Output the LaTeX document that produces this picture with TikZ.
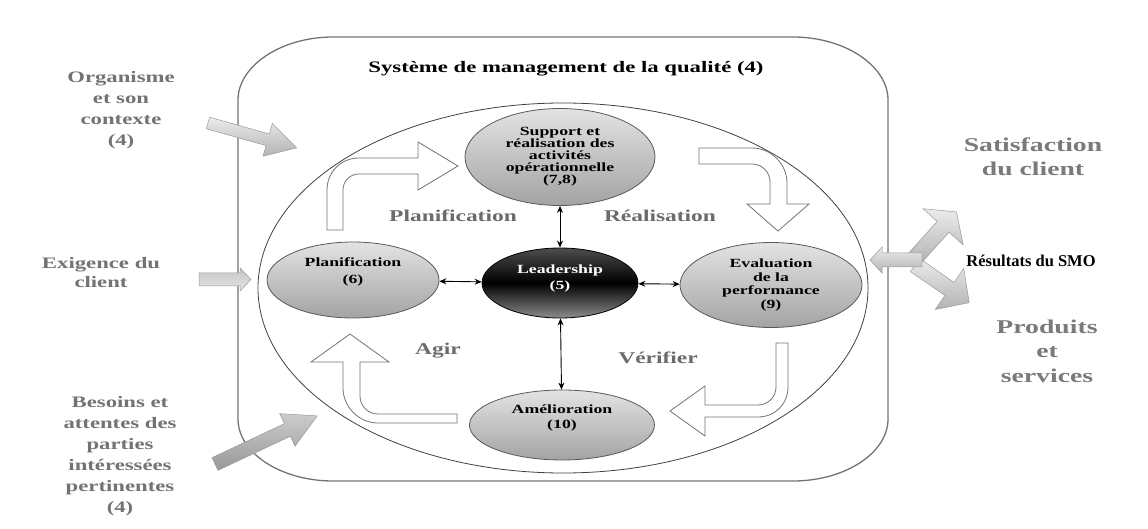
\documentclass[tikz,border=0pt]{standalone}
\usepackage{fontspec}
\setmainfont[FakeStretch=1.42]{Liberation Serif}
\newfontfamily\plainserif{Liberation Serif}
\usetikzlibrary{shapes.geometric,arrows.meta}
\begin{document}
\begin{tikzpicture}[x=1pt,y=-1pt,
  frame/.style={draw=black!55, line width=1.3pt},
  cyc/.style={draw=black!75, line width=0.8pt},
  hollow/.style={draw=black!55, line width=0.8pt, fill=white},
  garrow/.style={draw=black!40, line width=0.5pt, top color=gray!15, bottom color=gray!60},
  ell/.style={ellipse, draw=black!65, line width=0.8pt, top color=gray!22, bottom color=gray!72, inner sep=0pt},
  lead/.style={ellipse, draw=black, line width=0.8pt, top color=black!70, bottom color=black!45, middle color=black, inner sep=0pt},
  etext/.style={align=center, text=black, font=\bfseries\fontsize{12.5}{#1}\selectfont},
  glabel/.style={text=black!58, font=\bfseries\fontsize{16.5}{20}\selectfont},
  outtext/.style={align=center, text=black!55, font=\bfseries\fontsize{16}{#1}\selectfont},
  righttext/.style={align=center, text=black!52, font=\bfseries\fontsize{19.5}{#1}\selectfont},
  dbl/.style={{Stealth[length=7pt,width=6pt]}-{Stealth[length=7pt,width=6pt]}, line width=0.9pt, black}
]
\useasboundingbox (0,0) rectangle (1148,529);

% system frame
\draw[frame] (238,100) -- (238,419) .. controls (238,453) and (281,481) .. (333,481)
  -- (793,481) .. controls (845,481) and (888,453) .. (888,419)
  -- (888,100) .. controls (888,66) and (845,37) .. (793,37)
  -- (333,37) .. controls (281,37) and (238,66) .. (238,100) -- cycle;
\node[anchor=base, text=black, font=\bfseries\fontsize{16}{20}\selectfont] (title) at (566,73) {Système de management de la qualité (4)};

% PDCA cycle
\draw[cyc] (563,288) ellipse [x radius=305, y radius=185];

% hollow cycle arrows
\draw[hollow] (327,230) -- (327,190) .. controls (327,172) and (341,158) .. (359,158)
  -- (418,158) -- (418,142) -- (458,166) -- (418,190) -- (418,174) -- (359,174)
  .. controls (350,174) and (343,181) .. (343,190) -- (343,230) -- cycle;
\draw[hollow] (699,148) -- (752,148) .. controls (771,148) and (787,164) .. (787,183)
  -- (787,204) -- (809,204) -- (778,231) -- (747,204) -- (770,204) -- (770,182)
  .. controls (770,172) and (762,164) .. (752,164) -- (699,164) -- cycle;
\draw[hollow] (776,343) -- (788,343) -- (788,387) .. controls (788,404) and (775,417) .. (758,417)
  -- (705,417) -- (705,436) -- (670,411) -- (705,386) -- (705,405) -- (758,405)
  .. controls (768,405) and (776,397) .. (776,387) -- cycle;
\draw[hollow] (457,414) -- (457,423) -- (378,423) .. controls (359,423) and (343,407) .. (343,388)
  -- (343,362) -- (311,362) -- (350,334) -- (389,362) -- (360,362) -- (360,396)
  .. controls (360,406) and (368,414) .. (378,414) -- cycle;

% process ellipses
\node[ell, minimum width=190, minimum height=97] (sup) at (560,157) {};
\node[ell, minimum width=172, minimum height=76] (pl) at (353,280) {};
\node[lead, minimum width=156, minimum height=70] (ld) at (560,283) {};
\node[ell, minimum width=182, minimum height=85] (ev) at (771,285) {};
\node[ell, minimum width=185, minimum height=70] (am) at (562,425) {};

\node[etext=12] (tsup) at (560,157) {Support et\\réalisation des\\activités\\opérationnelle\\(7,8)};
\node[etext=17] (tpl) at (353,272) {Planification\\(6)};
\node[etext=16, text=white] (tld) at (560,278) {Leadership\\(5)};
\node[etext=13.7] (tev) at (771,285) {Evaluation\\de la\\performance\\(9)};
\node[etext=15] (tam) at (562,418) {Amélioration\\(10)};

% links with leadership
\draw[dbl] (sup) -- (ld);
\draw[dbl] (ld) -- (am);
\draw[dbl] (pl) -- (ld);
\draw[dbl] (ld) -- (ev);

% cycle labels
\node[glabel, anchor=base] (lplan) at (453,222) {Planification};
\node[glabel, anchor=base] (lreal) at (660,222) {Réalisation};
\node[glabel, anchor=base] (lagir) at (438,354) {Agir};
\node[glabel, anchor=base] (lverif) at (658,363) {Vérifier};

% inputs
\node[outtext=21] (org) at (121,110) {Organisme\\et son\\contexte\\(4)};
\node[outtext=19.5] (exi) at (101,272.5) {Exigence du\\client};
\node[outtext=21] (bes) at (120,456) {Besoins et\\attentes des\\parties\\intéressées\\pertinentes\\(4)};

\begin{scope}[shift={(208,123)}, rotate=-15.7]
  \draw[garrow] (0,-6) -- (62,-6) -- (62,-17) -- (92,0) -- (62,17) -- (62,6) -- (0,6) -- cycle;
\end{scope}
\draw[garrow, top color=gray!45, bottom color=gray!20] (199,273) -- (240,273) -- (240,268) -- (251,279.5) -- (240,291) -- (240,286) -- (199,286) -- cycle;
\begin{scope}[shift={(215,464)}, rotate=25.2]
  \draw[garrow, top color=gray!40, bottom color=gray!80] (0,-7) -- (80,-7) -- (80,-18) -- (113,0) -- (80,18) -- (80,7) -- (0,7) -- cycle;
\end{scope}

% outputs
\begin{scope}[shift={(915,265)}, rotate=-34.8]
  \draw[garrow] (0,-8) -- (42,-8) -- (42,-25) -- (66,0) -- (42,25) -- (42,8) -- (0,8) -- cycle;
\end{scope}
\begin{scope}[shift={(915,258)}, rotate=48]
  \draw[garrow] (0,-8) -- (42,-8) -- (42,-27) -- (62,0) -- (42,27) -- (42,8) -- (0,8) -- cycle;
\end{scope}
\draw[garrow] (922,253) -- (882,253) -- (882,247) -- (870,260) -- (882,273) -- (882,267) -- (922,267) -- cycle;

\node[anchor=base, text=black, font=\plainserif\bfseries\fontsize{16.5}{19}\selectfont] (res) at (1031,266) {Résultats du SMO};
\node[righttext=24] (sat) at (1033,157) {Satisfaction\\du client};
\node[righttext=24.5] (prod) at (1047,351) {Produits\\et\\services};
\end{tikzpicture}
\end{document}
